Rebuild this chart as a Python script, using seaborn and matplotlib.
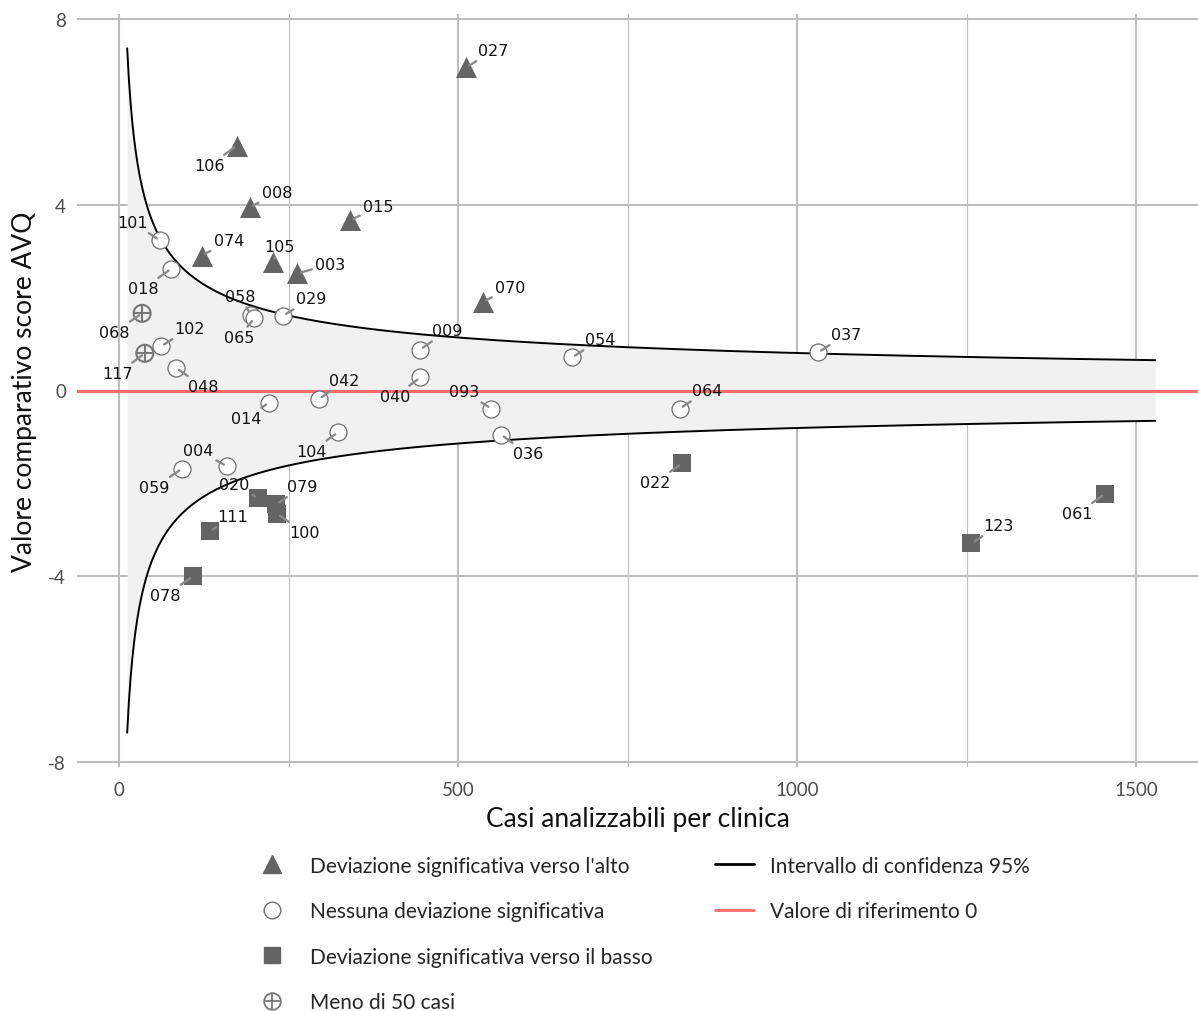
import numpy as np
import pandas as pd
import matplotlib
matplotlib.use("Agg")
import matplotlib.pyplot as plt
from matplotlib.lines import Line2D
import seaborn as sns

# --- data ---
up_ids = ["027", "106", "008", "015", "074", "105", "003", "070"]
up_x = [512, 174, 193, 341, 122, 227, 263, 537]
up_y = [6.95, 5.27, 3.94, 3.66, 2.90, 2.77, 2.52, 1.91]

none_ids = ["101", "018", "058", "065", "029", "102", "048", "014", "042", "009",
            "040", "093", "036", "054", "064", "037", "004", "059", "104"]
none_x = [60, 77, 194, 199, 242, 62, 84, 221, 295, 444,
          444, 549, 563, 668, 827, 1031, 159, 93, 323]
none_y = [3.23, 2.62, 1.63, 1.55, 1.61, 0.95, 0.49, -0.26, -0.19, 0.88,
          0.28, -0.39, -0.95, 0.71, -0.39, 0.82, -1.63, -1.68, -0.90]

down_ids = ["020", "079", "100", "111", "078", "022", "123", "061"]
down_x = [205, 232, 233, 134, 109, 830, 1257, 1454]
down_y = [-2.32, -2.45, -2.65, -3.03, -4.00, -1.57, -3.29, -2.22]

small_ids = ["068", "117"]
small_x = [34, 38]
small_y = [1.66, 0.80]

# 95% funnel: +/- ci_const / sqrt(n)
ci_const = 25.5
n_min, n_max = 12, 1528

x_ticks = [0, 500, 1000, 1500]
y_ticks = [-8, -4, 0, 4, 8]

# label offsets in pixels (dx, dy)
label_offsets = {
    "027": (27, 17), "106": (-28, -20), "008": (27, 15), "015": (28, 14),
    "074": (27, 15), "105": (7, 15), "003": (33, 9), "070": (27, 14),
    "101": (-27, 18), "018": (-28, -20), "058": (-10, 18), "065": (-15, -19),
    "029": (28, 17), "102": (28, 18), "048": (27, -19), "014": (-23, -16),
    "042": (25, 19), "068": (-28, -19), "117": (-27, -20), "009": (27, 19),
    "040": (-25, -19), "093": (-27, 17), "036": (27, -19), "054": (28, 18),
    "064": (27, 18), "037": (28, 18), "004": (-29, 16), "059": (-28, -19),
    "104": (-27, -19), "020": (-24, 14), "079": (26, 18), "100": (27, -19),
    "111": (23, 15), "078": (-28, -19), "022": (-27, -19), "123": (27, 18),
    "061": (-28, -20),
}

sns.set_theme(style="white")
plt.rcParams["font.family"] = ["Lato", "DejaVu Sans"]
plt.rcParams["axes.unicode_minus"] = False

dark = "#646464"
grid_col = "#bebebe"
ref_col = "#ff6b6b"

fig = plt.figure(figsize=(11.98, 10.12), dpi=100)
ax = fig.add_axes([77 / 1198, 1 - 768 / 1012, 1 - 77 / 1198, (768 - 15) / 1012])

# funnel
n = np.linspace(n_min, n_max, 600)
ci = ci_const / np.sqrt(n)
ax.fill_between(n, -ci, ci, color="#f1f1f1", lw=0, zorder=1)
ax.plot(n, ci, color="black", lw=1.4, zorder=3)
ax.plot(n, -ci, color="black", lw=1.4, zorder=3)
ax.axhline(0, color=ref_col, lw=2.2, zorder=3)

# points
sns.scatterplot(x=up_x, y=up_y, marker="^", s=229, color=dark, edgecolor=dark,
                linewidth=0, ax=ax, zorder=5)
sns.scatterplot(x=none_x, y=none_y, marker="o", s=150, color="white",
                edgecolor="#6e6e6e", linewidth=0.9, ax=ax, zorder=5)
sns.scatterplot(x=down_x, y=down_y, marker="s", s=150, color=dark, edgecolor=dark,
                linewidth=0, ax=ax, zorder=5)
ax.scatter(small_x, small_y, marker="o", s=150, facecolor="none",
           edgecolor="#777777", linewidth=1.5, zorder=5)
ax.scatter(small_x, small_y, marker="+", s=150, color="#777777",
           linewidth=1.5, zorder=5)

all_ids = up_ids + none_ids + down_ids + small_ids
all_x = up_x + none_x + down_x + small_x
all_y = up_y + none_y + down_y + small_y
for lab, xv, yv in zip(all_ids, all_x, all_y):
    dx, dy = label_offsets[lab]
    ax.annotate(lab, xy=(xv, yv), xytext=(dx, dy), textcoords="offset pixels",
                ha="center", va="center", fontsize=11.5, family="DejaVu Sans",
                color="#111111", zorder=6,
                arrowprops=dict(arrowstyle="-", color="#8a8a8a", lw=1.7,
                                shrinkA=0, shrinkB=2.5))

# axes styling
ax.set_xlim(-62, 1591)
ax.set_ylim(-8.1, 8.1)
ax.set_xticks(x_ticks)
ax.set_yticks(y_ticks)
ax.set_xticks([250, 750, 1250], minor=True)
ax.grid(True, which="major", color=grid_col, lw=1.5, zorder=0)
ax.grid(True, which="minor", axis="x", color=grid_col, lw=0.8, zorder=0)
ax.set_axisbelow(True)
for s in ax.spines.values():
    s.set_visible(False)
ax.tick_params(axis="both", length=0, labelsize=13.5, labelcolor="#4d4d4d")
ax.tick_params(axis="x", pad=10)
ax.tick_params(axis="y", pad=8)
ax.set_xlabel("Casi analizzabili per clinica", fontsize=19, color="#111111", labelpad=6)
ax.set_ylabel("Valore comparativo score AVQ", fontsize=19, color="#111111", labelpad=8)

# legends
h_up = Line2D([], [], marker="^", ls="none", color=dark, markersize=13)
h_none = Line2D([], [], marker="o", ls="none", markerfacecolor="white",
                markeredgecolor="#6e6e6e", markersize=12)
h_down = Line2D([], [], marker="s", ls="none", color=dark, markersize=12)
h_small = (Line2D([], [], marker="o", ls="none", markerfacecolor="none",
                  markeredgecolor="#777777", markersize=12, markeredgewidth=1.3),
           Line2D([], [], marker="+", ls="none", color="#777777", markersize=12,
                  markeredgewidth=1.3))
leg1 = fig.legend([h_up, h_none, h_down, h_small],
                  ["Deviazione significativa verso l'alto",
                   "Nessuna deviazione significativa",
                   "Deviazione significativa verso il basso",
                   "Meno di 50 casi"],
                  loc="upper left", bbox_to_anchor=(237 / 1198, 1 - 838 / 1012),
                  frameon=False, fontsize=15, labelspacing=1.22,
                  handlelength=1.6, handletextpad=1.0)
h_ci = Line2D([], [], color="black", lw=2)
h_ref = Line2D([], [], color=ref_col, lw=2)
leg2 = fig.legend([h_ci, h_ref],
                  ["Intervallo di confidenza 95%", "Valore di riferimento 0"],
                  loc="upper left", bbox_to_anchor=(696 / 1198, 1 - 838 / 1012),
                  frameon=False, fontsize=15, labelspacing=1.22,
                  handlelength=1.9, handletextpad=0.75)

fig.savefig("out.png", dpi=100)
